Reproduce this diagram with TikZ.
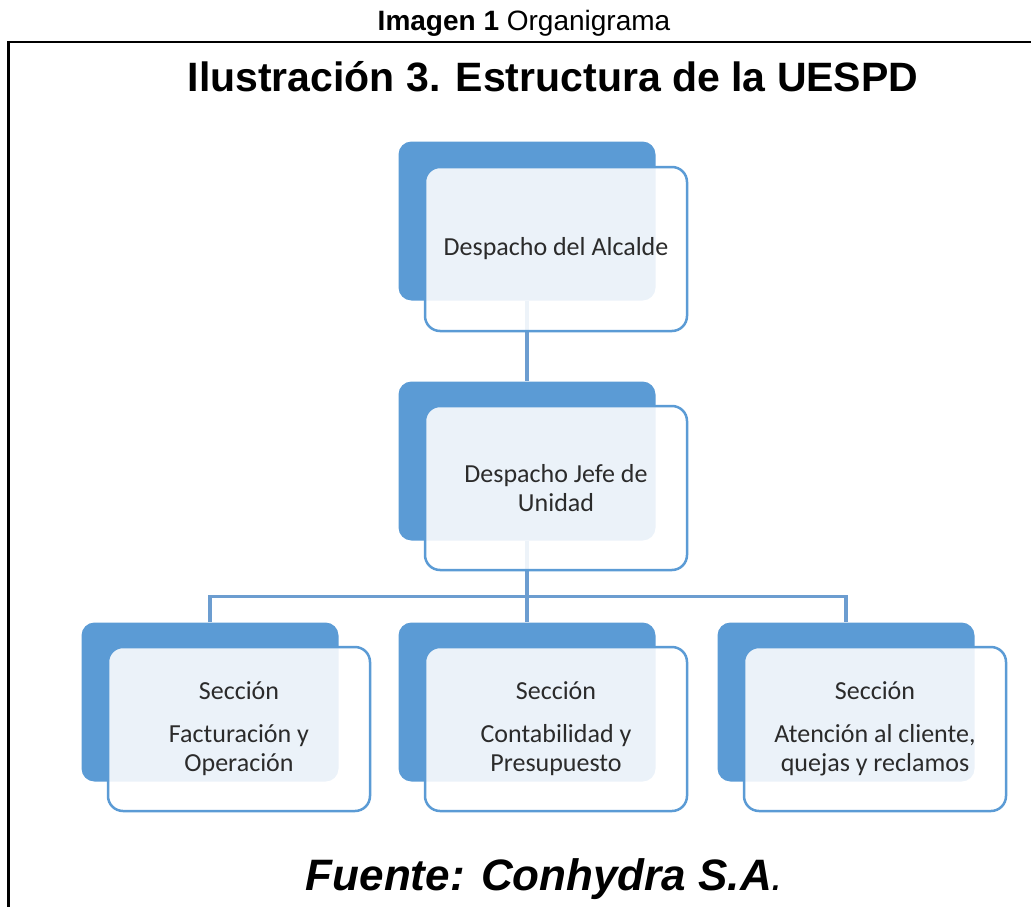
\documentclass[tikz,border=0pt]{standalone}
\usepackage{fontspec}
\setmainfont{Liberation Sans}
\newfontfamily\calfont{Carlito}
\usetikzlibrary{backgrounds}
\definecolor{orgblue}{HTML}{5B9BD5}
\definecolor{linkblue}{HTML}{6C9DD0}
\definecolor{ink}{HTML}{2B2B2B}
\newcommand\boxfont{\calfont\fontsize{26}{29}\selectfont}

\begin{document}
\begin{tikzpicture}[x=1pt,y=-1pt,
		tab/.style={fill=orgblue, rounded corners=13pt, minimum width=257pt, minimum height=159pt, inner sep=0pt},
		card/.style={draw=orgblue, line width=2.5pt, fill=white, fill opacity=0.88, text opacity=1, rounded corners=15pt,
			minimum width=262pt, minimum height=164pt, align=center, text=ink, font=\boxfont},
		link/.style={draw=linkblue, line width=3.5pt}]
	\useasboundingbox (0,0) rectangle (1031,907);
	\draw[line width=1.5pt] (7,42) -- (1031,42);
	\draw[line width=3pt] (8,41) -- (8,907);

	\node[anchor=base] (cap) at (524,31) {\fontsize{28}{30}\selectfont\textbf{Imagen 1} Organigrama};
	\node[anchor=base] (title) at (553,92) {\fontsize{41}{44}\selectfont\bfseries Ilustración 3. Estructura de la UESPD};

	\node[tab] (alcB) at (527,221) {};
	\node[card] (alc) at (556,249) {Despacho del Alcalde};

	\node[tab] (jefeB) at (527,461) {};
	\node[card] (jefe) at (556,488) {Despacho Jefe de\\Unidad};

	\node[tab] (factB) at (210,702) {};
	\node[card] (fact) at (239,729) {Sección\\[14pt]Facturación y\\Operación};
	\node[tab] (contB) at (527,702) {};
	\node[card] (cont) at (556,729) {Sección\\[14pt]Contabilidad y\\Presupuesto};
	\node[tab] (atenB) at (846,702) {};
	\node[card] (aten) at (875,729) {Sección\\[14pt]Atención al cliente,\\quejas y reclamos};

	\begin{scope}[on background layer]
		\draw[link] (alcB.south) -- (jefeB.north);
		\draw[link] (jefeB.south) -- (contB.north);
		\draw[link] (factB.north) -- ++(0,-26) -| (atenB.north);
	\end{scope}

	\node[anchor=base] (src) at (545,890) {\fontsize{44}{48}\selectfont\bfseries\itshape Fuente: Conhydra S.A\textmd{.}};
\end{tikzpicture}
\end{document}
